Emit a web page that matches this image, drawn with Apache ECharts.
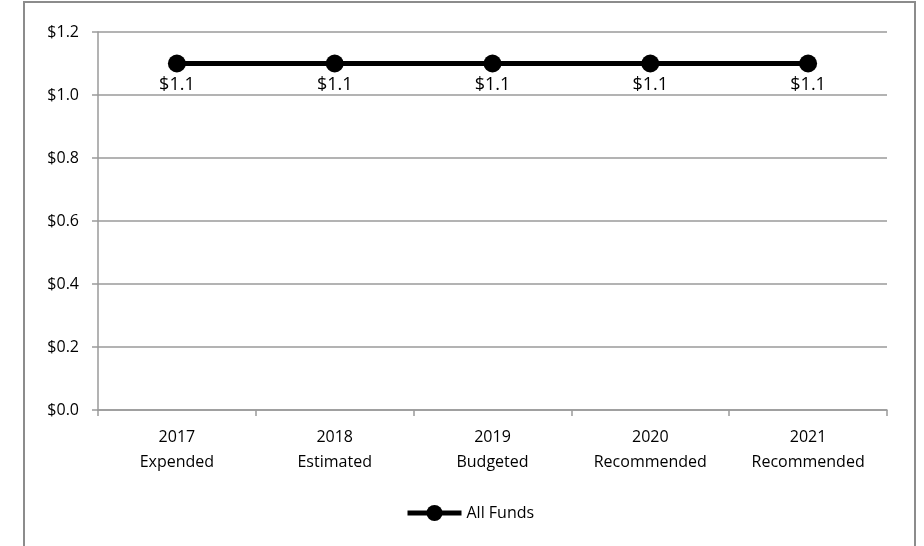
<!DOCTYPE html>
<html>
<head>
<meta charset="utf-8">
<script src="https://cdn.jsdelivr.net/npm/echarts@6/dist/echarts.min.js"></script>
<style>html,body{margin:0;padding:0;background:#fff}#c{width:924px;height:546px}</style>
</head>
<body>
<div id="c"></div>
<script>
const categories = ['2017\nExpended', '2018\nEstimated', '2019\nBudgeted', '2020\nRecommended', '2021\nRecommended'];
const allFunds = [1.1, 1.1, 1.1, 1.1, 1.1];
const yTicks = { min: 0, max: 1.2, interval: 0.2 };
const seriesName = 'All Funds';

const FONT = '"Open Sans", sans-serif';
const chart = echarts.init(document.getElementById('c'), null, { renderer: 'canvas' });
chart.setOption({
  animation: false,
  backgroundColor: '#fff',
  graphic: [{
    type: 'rect',
    shape: { x: 24, y: 2, width: 891, height: 600 },
    style: { fill: 'none', stroke: '#8c8c8c', lineWidth: 2 },
    silent: true
  }],
  grid: { left: 98, right: 37, top: 32, bottom: 136 },
  legend: {
    data: [{ name: seriesName }],
    bottom: 20,
    left: 400,
    itemWidth: 54,
    itemHeight: 20,
    itemGap: 6,
    lineStyle: { width: 5, color: '#000' },
    itemStyle: { color: '#000' },
    textStyle: { fontFamily: FONT, fontSize: 16, color: '#000' }
  },
  xAxis: {
    type: 'category',
    data: categories,
    boundaryGap: true,
    axisLine: { lineStyle: { color: '#9a9a9a', width: 1.5 } },
    axisTick: { show: true, length: 6, lineStyle: { color: '#9a9a9a', width: 1.5 } },
    axisLabel: { fontFamily: FONT, fontSize: 16, color: '#000', lineHeight: 25, margin: 15 }
  },
  yAxis: {
    type: 'value',
    min: yTicks.min, max: yTicks.max, interval: yTicks.interval,
    axisLine: { show: true, lineStyle: { color: '#9a9a9a', width: 1.5 } },
    axisTick: { show: true, length: 6, lineStyle: { color: '#9a9a9a', width: 1.5 } },
    splitLine: { lineStyle: { color: '#9a9a9a', width: 1.5 } },
    axisLabel: { fontFamily: FONT, fontSize: 16, color: '#000', margin: 19,
      formatter: v => '$' + v.toFixed(1) }
  },
  series: [{
    name: seriesName,
    type: 'line',
    data: allFunds,
    symbol: 'circle',
    symbolSize: 18,
    itemStyle: { color: '#000' },
    lineStyle: { color: '#000', width: 5 },
    label: {
      show: true, position: 'bottom', distance: 3,
      fontFamily: FONT, fontSize: 18, color: '#000',
      formatter: p => '$' + p.value.toFixed(1)
    }
  }]
});
</script>
</body>
</html>
